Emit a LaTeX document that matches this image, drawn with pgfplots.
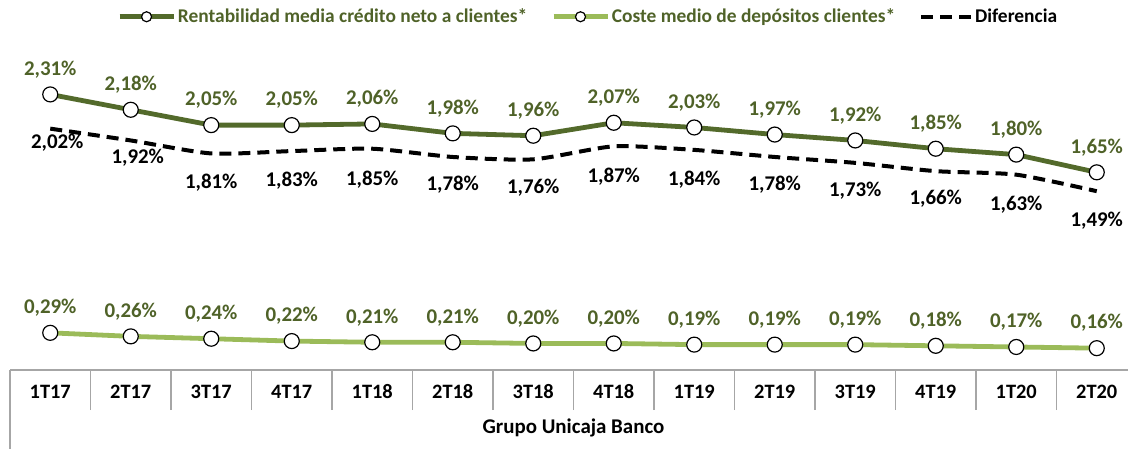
\documentclass[border=0pt]{standalone}
\usepackage{pgfplots}
\pgfplotsset{compat=1.18}
\usepackage{pgfplotstable}
\usepackage{fontspec}
\setmainfont{Carlito}
\definecolor{dkol}{HTML}{4F6228}
\definecolor{lineol}{HTML}{536A2B}
\definecolor{ltgr}{HTML}{9BBB59}
\definecolor{axgray}{HTML}{A6A6A6}

\pgfplotsset{
  mklegend/.style={legend image code/.code={\draw[mark repeat=2,mark phase=2,##1,mark size=5bp] plot coordinates {(0bp,0bp) (27bp,0bp) (54bp,0bp)};}},
  dashlegend/.style={legend image code/.code={\draw[##1] (0bp,0bp) -- (50bp,0bp);}},
}

\pgfplotstableread{
x y
0 2.31
1 2.18
2 2.05
3 2.05
4 2.06
5 1.98
6 1.96
7 2.07
8 2.03
9 1.97
10 1.92
11 1.85
12 1.80
13 1.65
}\rent
\pgfplotstableread{
x y
0 0.29
1 0.26
2 0.24
3 0.22
4 0.21
5 0.21
6 0.20
7 0.20
8 0.19
9 0.19
10 0.19
11 0.18
12 0.17
13 0.16
}\coste
\pgfplotstableread{
x y dx dy
0 2.02 7 -14
1 1.92 7 -17
2 1.81 0 -29
3 1.83 0 -30
4 1.85 0 -31
5 1.78 0 -28
6 1.76 0 -28
7 1.87 0 -30
8 1.84 0 -30
9 1.78 0 -28
10 1.73 0 -28
11 1.66 0 -28
12 1.63 0 -30
13 1.49 0 -30
}\dif

\begin{document}
\begin{tikzpicture}
\useasboundingbox (0bp,0bp) rectangle (1128bp,449bp);
\begin{axis}[
  at={(10bp,79bp)}, anchor=south west,
  scale only axis,
  width=1127bp, height=327.5bp,
  xmin=-0.5, xmax=13.5, ymin=-0.025, ymax=2.75,
  axis y line=none,
  axis x line*=bottom,
  x axis line style={draw=axgray, line width=1.3bp, -},
  xtick={0,...,13},
  xticklabels={1T17,2T17,3T17,4T17,1T18,2T18,3T18,4T18,1T19,2T19,3T19,4T19,1T20,2T20},
  major tick length=0pt,
  minor xtick={0.5,1.5,...,13.5},
  minor tick length=40bp,
  tick align=outside,
  tick style={draw=axgray, line width=1.3bp},
  extra x ticks={-0.5},
  extra x tick labels={},
  extra x tick style={major tick length=79bp, tick style={draw=axgray, line width=1.3bp}},
  xticklabel style={font=\fontsize{20.5}{20.5}\selectfont\bfseries, anchor=center, yshift=-22bp},
  xlabel={Grupo Unicaja Banco},
  xlabel style={font=\fontsize{21}{21}\selectfont\bfseries, at={(axis description cs:0.5,0)}, anchor=center, yshift=-58bp},
  clip=false,
  /pgf/number format/assume math mode=true,
  legend columns=3,
  legend style={at={(axis description cs:0.513,1.0786)}, anchor=center, draw=none, fill=none,
    font=\fontsize{19.5}{19.5}\selectfont\bfseries,
    /tikz/every even column/.append style={column sep=22bp}},
  legend cell align=left,
]
\addplot[lineol, line width=4.8bp, mark=*, mark size=7.5bp,
  mark options={fill=white, draw=black, line width=1.2bp},
  nodes near coords={\pgfmathprintnumber[fixed,fixed zerofill,precision=2,use comma]{\pgfplotspointmeta}\%},
  every node near coord/.append style={font=\fontsize{21}{21}\selectfont\bfseries, text=dkol, anchor=center, yshift=25bp},
  mklegend
] table[x=x,y=y] {\rent};
\addlegendentry{\textcolor{dkol}{Rentabilidad media crédito neto a clientes*}}

\addplot[ltgr, line width=4.8bp, mark=*, mark size=7.5bp,
  mark options={fill=white, draw=black, line width=1.2bp},
  nodes near coords={\pgfmathprintnumber[fixed,fixed zerofill,precision=2,use comma]{\pgfplotspointmeta}\%},
  every node near coord/.append style={font=\fontsize{21}{21}\selectfont\bfseries, text=dkol, anchor=center, yshift=25bp},
  mklegend
] table[x=x,y=y] {\coste};
\addlegendentry{\textcolor{dkol}{Coste medio de depósitos clientes*}}

\addplot[black, line width=4bp, dash pattern=on 12bp off 7bp, smooth, tension=0.4,
  visualization depends on=\thisrow{dx}\as\ldx,
  visualization depends on=\thisrow{dy}\as\ldy,
  nodes near coords={\pgfmathprintnumber[fixed,fixed zerofill,precision=2,use comma]{\pgfplotspointmeta}\%},
  every node near coord/.append style={font=\fontsize{21}{21}\selectfont\bfseries, text=black, anchor=center, xshift=\ldx bp, yshift=\ldy bp},
  dashlegend
] table[x=x,y=y] {\dif};
\addlegendentry{Diferencia}
\end{axis}
\end{tikzpicture}
\end{document}
